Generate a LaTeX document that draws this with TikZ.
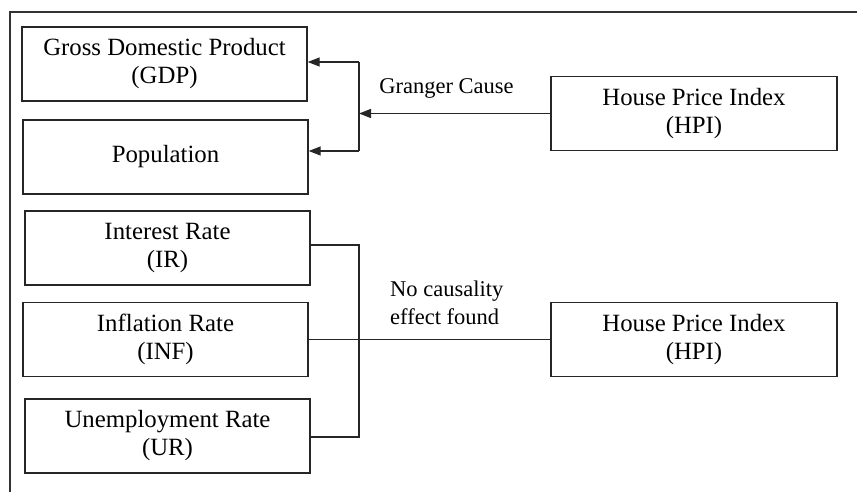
\documentclass[tikz,border=0pt]{standalone}
\usepackage{fontspec}
\setmainfont{Liberation Serif}
\usetikzlibrary{positioning,arrows.meta,calc}

\begin{document}
\begin{tikzpicture}[x=1pt, y=-1pt,
  varbox/.style={rectangle, draw=black!85, line width=1.4pt, minimum width=285pt, minimum height=74pt, align=center, inner sep=2pt, font={\fontsize{24.8}{28}\selectfont}},
  link/.style={draw=black!85, line width=1.4pt},
  arrlink/.style={draw=black!85, line width=1.4pt, -{Triangle[length=12pt,width=9pt]}},
  lbl/.style={inner sep=0pt, font={\fontsize{22.5}{28}\selectfont}}
]
\useasboundingbox (0,0) rectangle (857,492);
\draw[draw=black!80, line width=1.4pt] (10,492) -- (10,12) -- (857,12);
\node[varbox] (gdp) at (164.5,64) {Gross Domestic Product\\(GDP)};
\node[varbox] (pop) at (165.5,157) {Population};
\node[varbox] (ir) at (167.5,248) {Interest Rate\\(IR)};
\node[varbox] (inf) at (165.5,339.5) {Inflation Rate\\(INF)};
\node[varbox] (ur) at (167.5,436) {Unemployment Rate\\(UR)};
\node[varbox, minimum width=286pt] (hpia) at (694,113.5) {House Price Index\\(HPI)};
\node[varbox, minimum width=286pt] (hpib) at (694,339.5) {House Price Index\\(HPI)};
% granger cause branch
\coordinate (gtop) at (359,62);
\coordinate (gbot) at (359,151);
\draw[link] (gtop) -- (gbot);
\draw[arrlink] (gtop) -- (gtop -| gdp.east);
\draw[arrlink] (gbot) -- (gbot -| pop.east);
\draw[arrlink] (hpia.west) -- (hpia.west -| gtop);
\node[lbl, anchor=base] (gc) at (446.5,94) {Granger Cause};
% no causality branch
\coordinate (ntop) at (359,245);
\coordinate (nbot) at (359,437);
\draw[link] (ir.east |- ntop) -- (ntop) -- (nbot) -- (ur.east |- nbot);
\draw[link] (inf.east) -- (inf.east -| hpib.west);
\node[lbl, anchor=west, align=left] (nc) at (390,303) {No causality\\effect found};
\end{tikzpicture}
\end{document}
